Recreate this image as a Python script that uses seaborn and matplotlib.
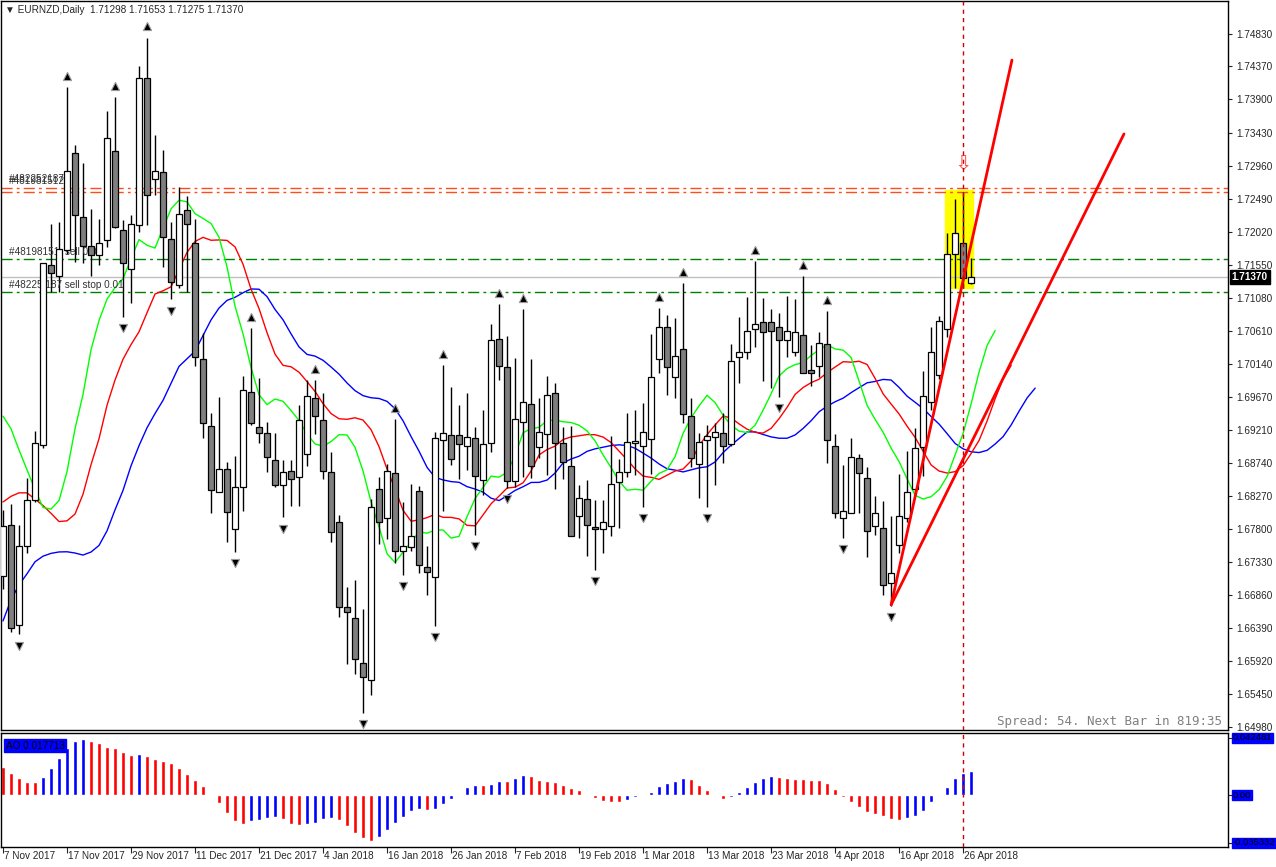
import matplotlib
matplotlib.use("Agg")
import matplotlib.pyplot as plt
import matplotlib.transforms as mtransforms
from matplotlib.patches import Rectangle
import numpy as np
import seaborn as sns

sns.set_style("white")
plt.rcParams["font.family"] = ["Liberation Sans", "DejaVu Sans"]

# ---- EURNZD daily candles ----
opens = [1.6713, 1.6785, 1.6643, 1.6755, 1.6821, 1.6899, 1.7155, 1.7139, 1.7176, 1.7314,
         1.7223, 1.7182, 1.7169, 1.7190, 1.7317, 1.7204, 1.7149, 1.7211, 1.7420, 1.7277,
         1.7287, 1.7191, 1.7126, 1.7233, 1.7186, 1.7021, 1.6926, 1.6832, 1.6865, 1.6779,
         1.6840, 1.6975, 1.6924, 1.6916, 1.6877, 1.6842, 1.6862, 1.6853, 1.6886, 1.6966,
         1.6934, 1.6860, 1.6789, 1.6669, 1.6653, 1.6589, 1.6565, 1.6836, 1.6795, 1.6859,
         1.6748, 1.6754, 1.6833, 1.6725, 1.6711, 1.6906, 1.6913, 1.6913, 1.6897, 1.6909,
         1.6849, 1.6902, 1.7050, 1.7010, 1.6848, 1.6931, 1.6957, 1.6896, 1.6914, 1.6973,
         1.6902, 1.6869, 1.6798, 1.6822, 1.6782, 1.6779, 1.6784, 1.6846, 1.6860, 1.6902,
         1.6897, 1.6907, 1.7021, 1.7067, 1.6995, 1.7035, 1.6940, 1.6872, 1.6906, 1.6910,
         1.6916, 1.6900, 1.7024, 1.7031, 1.7064, 1.7074, 1.7074, 1.7067, 1.7048, 1.7031,
         1.7055, 1.7005, 1.7011, 1.7042, 1.6897, 1.6795, 1.6802, 1.6880, 1.6852, 1.6784,
         1.6781, 1.6703, 1.6757, 1.6795, 1.6836, 1.6896, 1.6960, 1.6999, 1.7064, 1.7170,
         1.7186, 1.71298]
highs = [1.6806, 1.6815, 1.6786, 1.6852, 1.6919, 1.7157, 1.7213, 1.7216, 1.7407, 1.7325,
         1.7299, 1.7235, 1.7220, 1.7373, 1.7393, 1.7219, 1.7226, 1.7437, 1.7478, 1.7339,
         1.7318, 1.7216, 1.7265, 1.7253, 1.7220, 1.7058, 1.6944, 1.6967, 1.6875, 1.6883,
         1.6997, 1.7065, 1.6994, 1.6931, 1.6916, 1.6877, 1.6877, 1.6956, 1.6991, 1.6991,
         1.6973, 1.6889, 1.6799, 1.6697, 1.6707, 1.6666, 1.6822, 1.6853, 1.6872, 1.6936,
         1.6818, 1.6843, 1.6841, 1.6755, 1.6917, 1.7013, 1.6981, 1.6956, 1.6973, 1.6924,
         1.6949, 1.7071, 1.7099, 1.7054, 1.7023, 1.7092, 1.7021, 1.6966, 1.6997, 1.6987,
         1.6924, 1.6926, 1.6842, 1.6849, 1.6821, 1.6821, 1.6912, 1.6879, 1.6944, 1.6949,
         1.6959, 1.7057, 1.7093, 1.7083, 1.7079, 1.7129, 1.6966, 1.6916, 1.6927, 1.6930,
         1.6944, 1.7042, 1.7081, 1.7109, 1.7160, 1.7108, 1.7092, 1.7087, 1.7111, 1.7106,
         1.7139, 1.7041, 1.7059, 1.7089, 1.6914, 1.6870, 1.6909, 1.6886, 1.6868, 1.6826,
         1.6819, 1.6798, 1.6858, 1.6890, 1.6923, 1.7004, 1.7067, 1.7082, 1.7200, 1.7248,
         1.7258, 1.71653]
lows = [1.6695, 1.6633, 1.6630, 1.6745, 1.6818, 1.6895, 1.7117, 1.7116, 1.7170, 1.7159,
        1.7157, 1.7139, 1.7155, 1.7180, 1.7207, 1.7081, 1.7101, 1.7201, 1.7211, 1.7254,
        1.7152, 1.7106, 1.7122, 1.7117, 1.7011, 1.6909, 1.6802, 1.6832, 1.6761, 1.6747,
        1.6805, 1.6927, 1.6902, 1.6860, 1.6839, 1.6796, 1.6813, 1.6813, 1.6869, 1.6915,
        1.6850, 1.6761, 1.6655, 1.6588, 1.6573, 1.6518, 1.6544, 1.6758, 1.6765, 1.6731,
        1.6714, 1.6748, 1.6717, 1.6686, 1.6642, 1.6805, 1.6870, 1.6850, 1.6863, 1.6771,
        1.6828, 1.6889, 1.6991, 1.6838, 1.6839, 1.6853, 1.6852, 1.6880, 1.6856, 1.6836,
        1.6850, 1.6770, 1.6767, 1.6741, 1.6722, 1.6745, 1.6770, 1.6781, 1.6853, 1.6856,
        1.6811, 1.6858, 1.7002, 1.6970, 1.6966, 1.6930, 1.6868, 1.6824, 1.6811, 1.6842,
        1.6873, 1.6897, 1.6987, 1.7021, 1.7038, 1.6990, 1.6980, 1.6967, 1.7024, 1.7025,
        1.7001, 1.6983, 1.6995, 1.6873, 1.6795, 1.6767, 1.6802, 1.6802, 1.6740, 1.6771,
        1.6686, 1.6670, 1.6745, 1.6789, 1.6828, 1.6855, 1.6949, 1.6993, 1.7052, 1.7122,
        1.7122, 1.71275]
closes = [1.6784, 1.6639, 1.6755, 1.6821, 1.6902, 1.7157, 1.7143, 1.7177, 1.7289, 1.7226,
          1.7182, 1.7169, 1.7186, 1.7335, 1.7209, 1.7157, 1.7213, 1.7420, 1.7254, 1.7289,
          1.7194, 1.7130, 1.7227, 1.7213, 1.7024, 1.6930, 1.6835, 1.6865, 1.6804, 1.6840,
          1.6977, 1.6930, 1.6916, 1.6882, 1.6842, 1.6860, 1.6850, 1.6934, 1.6969, 1.6940,
          1.6862, 1.6775, 1.6669, 1.6662, 1.6595, 1.6569, 1.6811, 1.6789, 1.6862, 1.6748,
          1.6755, 1.6770, 1.6728, 1.6718, 1.6909, 1.6916, 1.6879, 1.6900, 1.6910, 1.6855,
          1.6900, 1.7048, 1.7011, 1.6848, 1.6936, 1.6960, 1.6869, 1.6917, 1.6970, 1.6902,
          1.6875, 1.6770, 1.6824, 1.6786, 1.6779, 1.6789, 1.6843, 1.6860, 1.6903, 1.6905,
          1.6917, 1.6995, 1.7067, 1.7010, 1.7025, 1.6943, 1.6880, 1.6903, 1.6912, 1.6917,
          1.6897, 1.7018, 1.7031, 1.7061, 1.7071, 1.7059, 1.7061, 1.7048, 1.7061, 1.7059,
          1.7002, 1.7002, 1.7044, 1.6906, 1.6802, 1.6805, 1.6882, 1.6859, 1.6777, 1.6802,
          1.6700, 1.6717, 1.6798, 1.6832, 1.6895, 1.6969, 1.7031, 1.7075, 1.7170, 1.7200,
          1.7136, 1.71370]

# Awesome Oscillator bars
ao_values = [0.0207, 0.0163, 0.0126, 0.0099, 0.0099, 0.0133, 0.0200, 0.0277, 0.0350, 0.0403,
             0.0415, 0.0403, 0.0388, 0.0358, 0.0351, 0.0321, 0.0296, 0.0304, 0.0291, 0.0264,
             0.0254, 0.0239, 0.0203, 0.0158, 0.0111, 0.0067, 0.0007, -0.0057, -0.0131, -0.0190,
             -0.0212, -0.0190, -0.0183, -0.0168, -0.0160, -0.0175, -0.0212, -0.0225, -0.0218, -0.0205,
             -0.0175, -0.0168, -0.0183, -0.0227, -0.0279, -0.0321, -0.0338, -0.0309, -0.0257, -0.0207,
             -0.0163, -0.0119, -0.0104, -0.0111, -0.0104, -0.0067, -0.0030, 0.0007, 0.0059, 0.0074,
             0.0074, 0.0081, 0.0104, 0.0104, 0.0126, 0.0148, 0.0141, 0.0111, 0.0104, 0.0096,
             0.0074, 0.0052, 0.0037, 0.0007, -0.0020, -0.0044, -0.0052, -0.0052, -0.0037, -0.0015,
             0.0007, 0.0022, 0.0067, 0.0089, 0.0104, 0.0126, 0.0118, 0.0074, 0.0037, 0.0007,
             -0.0030, -0.0015, 0.0022, 0.0059, 0.0096, 0.0126, 0.0141, 0.0133, 0.0126, 0.0118,
             0.0118, 0.0111, 0.0111, 0.0089, 0.0044, -0.0015, -0.0052, -0.0089, -0.0126, -0.0141,
             -0.0156, -0.0178, -0.0185, -0.0170, -0.0156, -0.0119, -0.0052, -0.0007, 0.0059, 0.0126,
             0.0165, 0.0177]

# Alligator lines before the first candle (shifted part)
jaw_lead = [1.6649, 1.6679, 1.6700, 1.6716, 1.6733, 1.6741, 1.6745, 1.6747]
teeth_lead = [1.6818, 1.6826, 1.6831, 1.6831, 1.6822]
lips_lead = [1.6940, 1.6922, 1.6892]

fractal_up = [8, 14, 18, 31, 39, 49, 55, 62, 65, 82, 85, 94, 100, 103]
fractal_down = [2, 15, 21, 29, 35, 45, 50, 54, 59, 63, 74, 80, 88, 97, 105, 111]

date_labels = ["7 Nov 2017", "17 Nov 2017", "29 Nov 2017", "11 Dec 2017", "21 Dec 2017",
               "4 Jan 2018", "16 Jan 2018", "26 Jan 2018", "7 Feb 2018", "19 Feb 2018",
               "1 Mar 2018", "13 Mar 2018", "23 Mar 2018", "4 Apr 2018", "16 Apr 2018",
               "26 Apr 2018"]
price_ticks = [1.74830, 1.74370, 1.73900, 1.73430, 1.72960, 1.72490, 1.72020, 1.71550,
               1.71080, 1.70610, 1.70140, 1.69670, 1.69210, 1.68740, 1.68270, 1.67800,
               1.67330, 1.66860, 1.66390, 1.65920, 1.65450, 1.64980]

# order lines and drawings
order_lines_orange = [1.7264, 1.7258]
order_lines_green = [1.7163, 1.7117]
order_labels = [(1.72705, "#482252187"), (1.72665, "#481981512"),
                (1.71655, "#48198151  sell 0.01"), (1.71195, "#48225 187 sell stop 0.01")]
bid_price = 1.71370
trend_start = (111, 1.6672)
trend_ends = [(126.1, 1.7446), (140.1, 1.7341)]

W, H = 1276, 867
FS = 7.2


def smma(values, period, seed):
    out = []
    prev = seed
    for v in values:
        prev = (prev * (period - 1) + v) / period
        out.append(prev)
    return out


def px_box(x0, y0, x1, y1):
    return [x0 / W, 1 - y1 / H, (x1 - x0) / W, (y1 - y0) / H]


fig = plt.figure(figsize=(W / 100, H / 100), dpi=100)
ax = fig.add_axes(px_box(1, 1, 1228, 730))
ax_ao = fig.add_axes(px_box(1, 733, 1228, 847), sharex=ax)

n = len(closes)
idx = np.arange(n)
o, h, l, c = map(np.array, (opens, highs, lows, closes))

# candles
ax.vlines(idx, l, h, color="black", lw=1, zorder=3)
bull = c >= o
body_lo = np.minimum(o, c)
body_h = np.maximum(np.abs(c - o), 0.00005)
ax.bar(idx[bull], body_h[bull], bottom=body_lo[bull], width=0.7,
       color="white", edgecolor="black", lw=0.9, zorder=4)
ax.bar(idx[~bull], body_h[~bull], bottom=body_lo[~bull], width=0.7,
       color="#7f7f7f", edgecolor="black", lw=0.9, zorder=4)

# alligator
median = (h + l) / 2
for lead, period, color in ((jaw_lead, 13, "#0000ff"), (teeth_lead, 8, "#ff0000"),
                            (lips_lead, 5, "#00ff00")):
    vals = lead + smma(median, period, lead[-1])
    sns.lineplot(x=np.arange(len(vals)), y=vals, color=color, lw=1, ax=ax, zorder=2)

# fractals
ax.scatter(fractal_up, h[fractal_up] + 0.0016, marker="^", s=34, color="black",
           edgecolor="#9a9a9a", lw=0.8, zorder=5)
ax.scatter(fractal_down, l[fractal_down] - 0.0016, marker="v", s=34, color="black",
           edgecolor="#9a9a9a", lw=0.8, zorder=5)

# horizontal order lines
for y in order_lines_orange:
    ax.axhline(y, color="#ff4c1c", lw=1, ls=(0, (8, 3, 2, 3)), zorder=1)
for y in order_lines_green:
    ax.axhline(y, color="#008000", lw=1, ls=(0, (8, 3, 2, 3)), zorder=1)
ax.axhline(bid_price, color="#c0c0c0", lw=1, zorder=1)

trans_l = mtransforms.blended_transform_factory(ax.transAxes, ax.transData)
for y, s in order_labels:
    ax.text(8 / 1227, y, s, transform=trans_l, fontsize=FS, color="#333333", va="bottom")

# highlight box and marker
ax.add_patch(Rectangle((117.75, 1.7122), 3.5, 0.0139, color="#ffff00", zorder=0.5))
ax.text(120, 1.7299, "\u21e9", family="DejaVu Sans", color="#ff5050", fontsize=15,
        ha="center", va="center")

# trend lines
for x1, y1 in trend_ends:
    ax.plot([trend_start[0], x1], [trend_start[1], y1], color="#ff0000", lw=2, zorder=6)

# vertical dashed line
for a in (ax, ax_ao):
    a.axvline(120, color="#cc0000", lw=1, ls=(0, (3, 3)), zorder=7)

# AO panel
ao = np.array(ao_values)
ao_up = np.r_[False, ao[1:] > ao[:-1]]
ax_ao.bar(idx, ao, width=0.5, color=np.where(ao_up, "#0000ff", "#ff0000"))

# axes limits and frames
ax.set_xlim(-0.25, 153.1)
ax.set_ylim(1.64940, 1.75299)
ax_ao.set_ylim(-0.03853, 0.04594)
for a in (ax, ax_ao):
    for s in a.spines.values():
        s.set_color("black")
        s.set_linewidth(1)
    a.grid(False)
    a.set_xlabel("")
    a.set_ylabel("")

ax.yaxis.tick_right()
ax.set_yticks(price_ticks)
ax.set_yticklabels([f"{t:.5f}" for t in price_ticks], fontsize=FS)
ax.tick_params(axis="y", direction="out", length=3, pad=3, right=True)
ax.tick_params(axis="x", bottom=False, labelbottom=False)

ax_ao.yaxis.tick_right()
ax_ao.set_yticks([0.042481, 0.0, -0.035332])
ax_ao.set_yticklabels([])
ax_ao.tick_params(axis="y", direction="out", length=3, right=True)
ax_ao.set_xticks(np.arange(0, n, 8))
ax_ao.set_xticklabels([])
ax_ao.tick_params(axis="x", direction="out", length=4, bottom=True)

for k, lab in enumerate(date_labels):
    fig.text((4 + 64 * k) / W, 1 - 856 / H, lab, fontsize=FS, ha="left", va="center")

# price label boxes
ax.text(1.003, bid_price, "1.71370", transform=trans_l, fontsize=FS, color="white",
        fontweight="bold", va="center", ha="left",
        bbox=dict(boxstyle="square,pad=0.2", fc="black", ec="black"))
trans_ao = mtransforms.blended_transform_factory(ax_ao.transAxes, ax_ao.transData)
for v, s in ((0.042481, "0.042481"), (0.0, "0.00"), (-0.035332, "-0.035332")):
    ax_ao.text(1.004, v, s, transform=trans_ao, fontsize=6.8, color="black",
               va="center", ha="left", clip_on=False,
               bbox=dict(boxstyle="square,pad=0.05", fc="#0000ff", ec="#0000ff"))
ax_ao.text(0.004, 0.93, "AO 0.017713", transform=ax_ao.transAxes, fontsize=FS,
           color="black", va="top", ha="left",
           bbox=dict(boxstyle="square,pad=0.15", fc="#0000ff", ec="#0000ff"))

fig.text(5 / W, 1 - 10 / H, "\u25bc EURNZD,Daily  1.71298 1.71653 1.71275 1.71370",
         family=["Liberation Sans", "DejaVu Sans"], fontsize=FS, va="center", ha="left")
fig.text(1222 / W, 1 - 721 / H, "Spread: 54. Next Bar in 819:35", fontsize=9,
         family="DejaVu Sans Mono", color="#808080", va="center", ha="right")

fig.savefig("out.png", dpi=100, facecolor="white")
